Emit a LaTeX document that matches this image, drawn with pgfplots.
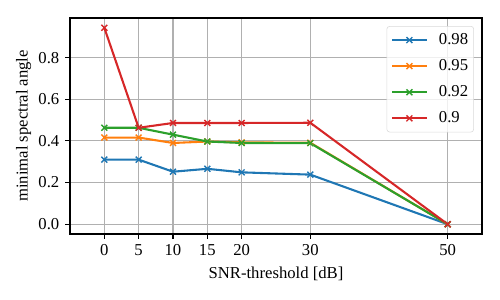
\documentclass[border=0pt]{standalone}
\usepackage{pgfplots}
\pgfplotsset{compat=1.18}
\usepackage{fontspec}
\setmainfont{Liberation Serif}
\definecolor{tblue}{HTML}{1F77B4}
\definecolor{torange}{HTML}{FF7F0E}
\definecolor{tgreen}{HTML}{2CA02C}
\definecolor{tred}{HTML}{D62728}
\definecolor{gridc}{HTML}{B0B0B0}
\begin{document}
\fontsize{12pt}{14.4pt}\selectfont
\begin{tikzpicture}
\path[use as bounding box] (-50.4pt,-47.52pt) rectangle (309.6pt,168.48pt);
\begin{axis}[
  scale only axis,
  width=296.64pt, height=155.52pt,
  xmin=-5, xmax=55,
  ymin=-0.047, ymax=0.99,
  xtick={0,5,10,15,20,30,50},
  ytick={0,0.2,0.4,0.6,0.8},
  yticklabel style={/pgf/number format/.cd, fixed, fixed zerofill, precision=1},
  /pgf/number format/assume math mode=true,
  tick pos=left,
  tick align=outside,
  major tick length=3.5pt,
  every tick/.style={black, line width=0.8pt},
  axis line style={line width=0.8pt},
  grid=major,
  major grid style={gridc, line width=0.8pt},
  xlabel={SNR-threshold [dB]},
  ylabel={minimal spectral angle},
  ylabel shift=-3pt,
  tick label style={font=\fontsize{12pt}{14.4pt}\selectfont},
  label style={font=\fontsize{12pt}{14.4pt}\selectfont},
  every axis plot/.append style={line width=1.5pt, mark=x, mark size=3pt, mark options={line width=1pt}},
  legend cell align=left,
  legend style={at={(1,1)}, anchor=north east, xshift=-5.8pt, yshift=-5.8pt,
    draw=gray!30, rounded corners=2pt, fill=white, fill opacity=0.8, text opacity=1,
    row sep=7pt, column sep=7pt, inner xsep=3pt, inner ysep=4pt, font=\fontsize{12pt}{14.4pt}\selectfont,
    nodes={inner sep=1pt}},
  legend image code/.code={\draw[mark repeat=2,mark phase=2] plot coordinates {(0pt,0pt)(12.5pt,0pt)(25pt,0pt)};},
]
\addplot[color=tblue] coordinates {(0,0.31)(5,0.31)(10,0.252)(15,0.266)(20,0.249)(30,0.238)(50,0.0)};
\addlegendentry{0.98}
\addplot[color=torange] coordinates {(0,0.416)(5,0.416)(10,0.390)(15,0.397)(20,0.393)(30,0.391)(50,0.0)};
\addlegendentry{0.95}
\addplot[color=tgreen] coordinates {(0,0.463)(5,0.463)(10,0.430)(15,0.397)(20,0.390)(30,0.389)(50,0.0)};
\addlegendentry{0.92}
\addplot[color=tred] coordinates {(0,0.943)(5,0.463)(10,0.486)(15,0.486)(20,0.486)(30,0.487)(50,0.0)};
\addlegendentry{0.9}
\end{axis}
\end{tikzpicture}
\end{document}
